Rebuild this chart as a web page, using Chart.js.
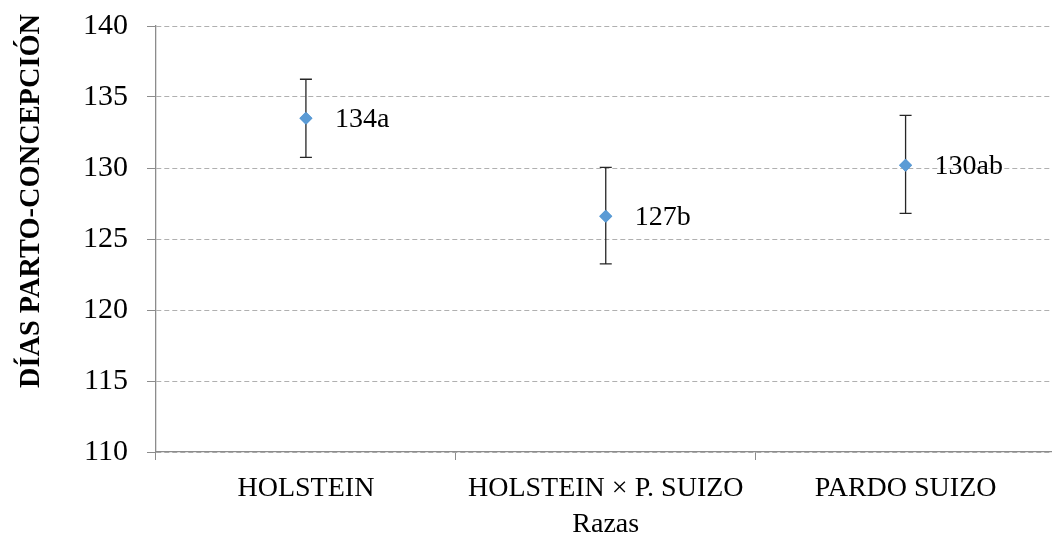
<!DOCTYPE html>
<html>
<head>
<meta charset="utf-8">
<script src="https://cdn.jsdelivr.net/npm/chart.js@4.4.1/dist/chart.umd.min.js"></script>
<style>
  html, body { margin: 0; padding: 0; background: #fff; overflow: hidden; }
  #wrap { width: 1062px; height: 541px; position: relative; }
</style>
</head>
<body>
<div id="wrap"><canvas id="c"></canvas></div>
<script>
const categories = ['HOLSTEIN', 'HOLSTEIN × P. SUIZO', 'PARDO SUIZO'];
const means = [133.5, 126.6, 130.2];
const upper = [136.25, 130.05, 133.7];
const lower = [130.75, 123.25, 126.8];
const pointLabels = ['134a', '127b', '130ab'];
const yTicks = [110, 115, 120, 125, 130, 135, 140];
const yTitle = 'DÍAS PARTO-CONCEPCIÓN';
const xTitle = 'Razas';

const FONT = "'Liberation Serif', 'Times New Roman', serif";

const errorBars = {
  id: 'errorBars',
  afterDatasetsDraw(chart) {
    const ctx = chart.ctx;
    const meta = chart.getDatasetMeta(0);
    const ys = chart.scales.y;
    ctx.save();
    ctx.strokeStyle = '#262626';
    ctx.lineWidth = 1.3;
    meta.data.forEach((pt, i) => {
      const x = pt.x;
      const yt = ys.getPixelForValue(upper[i]);
      const yb = ys.getPixelForValue(lower[i]);
      ctx.beginPath();
      ctx.moveTo(x, yt); ctx.lineTo(x, yb);
      ctx.moveTo(x - 6, yt); ctx.lineTo(x + 6, yt);
      ctx.moveTo(x - 6, yb); ctx.lineTo(x + 6, yb);
      ctx.stroke();
    });
    ctx.restore();
    meta.data.forEach(pt => pt.draw(ctx));
    ctx.save();
    ctx.fillStyle = '#000';
    ctx.font = '28px ' + FONT;
    ctx.textAlign = 'left';
    ctx.textBaseline = 'middle';
    meta.data.forEach((pt, i) => {
      ctx.fillText(pointLabels[i], pt.x + 29, pt.y + 1);
    });
    ctx.restore();
  }
};

const yTitlePlugin = {
  id: 'yTitlePlugin',
  afterDraw(chart) {
    const ctx = chart.ctx;
    ctx.save();
    ctx.translate(32, 201);
    ctx.rotate(-Math.PI / 2);
    ctx.font = 'bold 28.4px ' + FONT;
    ctx.fillStyle = '#000';
    ctx.textAlign = 'center';
    ctx.textBaseline = 'middle';
    ctx.fillText(yTitle, 0, 0);
    ctx.restore();
  }
};

new Chart(document.getElementById('c'), {
  type: 'line',
  data: {
    labels: categories,
    datasets: [{
      data: means,
      showLine: false,
      pointStyle: 'rectRot',
      pointRadius: 6.5,
      pointHoverRadius: 6.5,
      pointBackgroundColor: '#5b9bd5',
      pointBorderColor: '#5b9bd5',
      pointBorderWidth: 0
    }]
  },
  options: {
    responsive: true,
    maintainAspectRatio: false,
    animation: false,
    events: [],
    layout: { padding: { top: 26, right: 0, left: 0, bottom: 0 } },
    plugins: {
      legend: { display: false },
      tooltip: { enabled: false }
    },
    scales: {
      x: {
        type: 'category',
        offset: true,
        afterFit(scale) { scale.height = 89; scale.paddingLeft = 0; scale.paddingRight = 0; },
        grid: {
          offset: true,
          drawOnChartArea: false,
          drawTicks: true,
          tickLength: 8,
          tickColor: '#8c8c8c',
          tickWidth: 1
        },
        border: { display: true, color: '#8c8c8c', width: 1.3 },
        ticks: {
          color: '#000',
          padding: 12,
          font: { family: FONT, size: 28 }
        },
        title: {
          display: true,
          text: xTitle,
          color: '#000',
          padding: { top: 0, bottom: 0 },
          font: { family: FONT, size: 28 }
        }
      },
      y: {
        min: 110,
        max: 140,
        afterFit(scale) { scale.width = 156; scale.paddingTop = 0; scale.paddingBottom = 0; },
        afterBuildTicks(scale) { scale.ticks = yTicks.map(v => ({ value: v })); },
        grid: {
          color: '#b0b0b0',
          lineWidth: 1,
          drawTicks: true,
          tickLength: 9,
          tickColor: '#8c8c8c',
          tickWidth: 1,
          tickBorderDash: []
        },
        border: { display: true, color: '#8c8c8c', width: 1.3, dash: [5, 3] },
        ticks: {
          color: '#000',
          padding: 19,
          font: { family: FONT, size: 30 }
        }
      }
    }
  },
  plugins: [errorBars, yTitlePlugin]
});
</script>
</body>
</html>
